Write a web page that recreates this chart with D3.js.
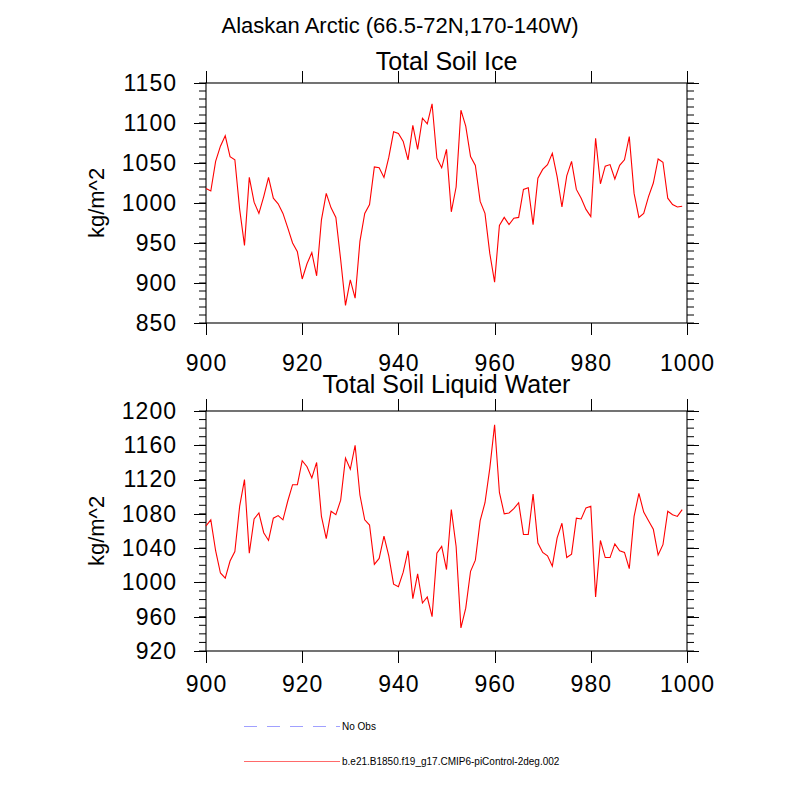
<!DOCTYPE html>
<html>
<head>
    <meta charset="utf-8">
    <title>Alaskan Arctic soil</title>
    <script type="text/javascript" src="https://cdn.jsdelivr.net/npm/d3@7"></script>
    <style type="text/css">
        body { margin: 0; background: #fff; }
        text { font-family: "Liberation Sans", Arial, Helvetica, sans-serif; fill: #000; }
        .axis path, .axis line { stroke: #000; stroke-width: 1.1px; shape-rendering: crispEdges; }
        .axis text { font-size: 23px; letter-spacing: 1px; }
        .series { fill: none; stroke: #ff0000; stroke-width: 1.1px; }
    </style>
</head>
<body>
<script type="text/javascript">
    var title = "Alaskan Arctic (66.5-72N,170-140W)";
    var years = d3.range(900, 1000);

    var soilIce = [
        1018, 1015, 1052, 1071, 1084, 1058, 1054, 992, 947, 1032,
        1001, 987, 1008, 1032, 1006, 999, 987, 969, 950, 939,
        905, 924, 938, 909, 979, 1012, 994, 982, 929, 872,
        904, 881, 952, 987, 998, 1045, 1044, 1032, 1057, 1089,
        1087, 1077, 1054, 1097, 1067, 1106, 1099, 1124, 1056, 1044,
        1067, 989, 1020, 1116, 1096, 1058, 1047, 1002, 987, 937,
        901, 972, 982, 973, 981, 982, 1017, 1019, 973, 1031,
        1042, 1048, 1062, 1033, 995, 1034, 1052, 1017, 1006, 992,
        983, 1081, 1024, 1046, 1048, 1030, 1047, 1054, 1083, 1012,
        982, 987, 1008, 1025, 1055, 1051, 1006, 998, 995, 996
    ];

    var soilWater = [
        1066, 1073, 1037, 1011, 1005, 1025, 1036, 1089, 1120, 1034,
        1074, 1081, 1058, 1049, 1075, 1078, 1073, 1095, 1114, 1114,
        1142, 1135, 1122, 1140, 1077, 1051, 1083, 1079, 1096, 1145,
        1132, 1160, 1102, 1073, 1067, 1021, 1028, 1054, 1031, 998,
        995, 1012, 1037, 981, 1010, 976, 983, 960, 1034, 1042,
        1015, 1085, 1042, 947, 970, 1013, 1026, 1072, 1093, 1133,
        1184, 1105, 1080, 1081, 1086, 1093, 1056, 1056, 1103, 1046,
        1035, 1031, 1019, 1052, 1069, 1029, 1033, 1075, 1074, 1087,
        1089, 983, 1049, 1029, 1029, 1045, 1037, 1035, 1016, 1077,
        1104, 1082, 1072, 1062, 1032, 1044, 1083, 1079, 1077, 1085
    ];

    var xTicks = [900, 920, 940, 960, 980, 1000];
    var iceTicks = [850, 900, 950, 1000, 1050, 1100, 1150];
    var waterTicks = [920, 960, 1000, 1040, 1080, 1120, 1160, 1200];

    var legendNames = ["No Obs", "b.e21.B1850.f19_g17.CMIP6-piControl-2deg.002"];

    var width = 800, height = 800;
    var left = 206, right = 687, plotH = 240;

    var svg = d3.select("body").append("svg")
            .attr("width", width)
            .attr("height", height);

    svg.append("text")
            .attr("x", 400)
            .attr("y", 33)
            .attr("text-anchor", "middle")
            .style("font-size", "22px")
            .text(title);

    var x = d3.scaleLinear().domain([900, 1000]).range([left, right]);

    // NCL places the two panels' labels a little differently, so offsets are per panel
    function panel(top, values, yTicks, name, titleGap, xPad) {
        var y = d3.scaleLinear()
                .domain([yTicks[0], yTicks[yTicks.length - 1]])
                .range([top + plotH, top]);
        var minor = d3.range(yTicks[0], yTicks[yTicks.length - 1] + 0.1, 10);

        var g = svg.append("g");

        // minor ticks, outward, both sides
        g.selectAll("line.minl").data(minor).enter().append("line")
                .attr("x1", left - 7).attr("x2", left)
                .attr("y1", y).attr("y2", y)
                .attr("stroke", "#000").attr("stroke-width", 1);
        g.selectAll("line.minr").data(minor).enter().append("line")
                .attr("x1", right).attr("x2", right + 7)
                .attr("y1", y).attr("y2", y)
                .attr("stroke", "#000").attr("stroke-width", 1);

        g.append("g").attr("class", "axis")
                .attr("transform", "translate(" + left + ",0)")
                .call(d3.axisLeft(y).tickValues(yTicks).tickSize(12).tickPadding(17).tickFormat(d3.format("d")));
        g.append("g").attr("class", "axis")
                .attr("transform", "translate(" + right + ",0)")
                .call(d3.axisRight(y).tickValues(yTicks).tickSize(12).tickFormat(""));
        g.append("g").attr("class", "axis")
                .attr("transform", "translate(0," + (top + plotH) + ")")
                .call(d3.axisBottom(x).tickValues(xTicks).tickSize(12).tickPadding(xPad).tickFormat(d3.format("d")));
        g.append("g").attr("class", "axis")
                .attr("transform", "translate(0," + top + ")")
                .call(d3.axisTop(x).tickValues(xTicks).tickSize(12).tickFormat(""));

        g.selectAll(".axis path").attr("d", null);
        g.append("rect")
                .attr("x", left).attr("y", top)
                .attr("width", right - left).attr("height", plotH)
                .attr("fill", "none").attr("stroke", "#000").attr("stroke-width", 1.1);

        var line = d3.line()
                .x(function (d, i) { return x(years[i]); })
                .y(function (d) { return y(d); });

        g.append("path")
                .datum(values)
                .attr("class", "series")
                .attr("d", line);

        g.append("text")
                .attr("x", (left + right) / 2)
                .attr("y", top - titleGap)
                .attr("text-anchor", "middle")
                .style("font-size", "25px")
                .text(name);

        g.append("text")
                .attr("transform", "translate(104," + (top + plotH / 2) + ") rotate(-90)")
                .attr("text-anchor", "middle")
                .style("font-size", "22px")
                .text("kg/m^2");
    }

    panel(83, soilIce, iceTicks, "Total Soil Ice", 13, 20);
    panel(411, soilWater, waterTicks, "Total Soil Liquid Water", 18, 13);

    // legend
    var legend = svg.append("g");
    legend.append("line")
            .attr("x1", 244).attr("x2", 340)
            .attr("y1", 726.5).attr("y2", 726.5)
            .attr("stroke", "#a0a0ff").attr("stroke-width", 1.2)
            .attr("stroke-dasharray", "13,10");
    legend.append("line")
            .attr("x1", 244).attr("x2", 340)
            .attr("y1", 761.5).attr("y2", 761.5)
            .attr("stroke", "#ff6a6a").attr("stroke-width", 1);
    legend.selectAll("text.leg").data(legendNames).enter().append("text")
            .attr("x", 342)
            .attr("y", function (d, i) { return 730 + i * 35; })
            .style("font-size", "10px")
            .text(function (d) { return d; });
</script>
</body>
</html>
